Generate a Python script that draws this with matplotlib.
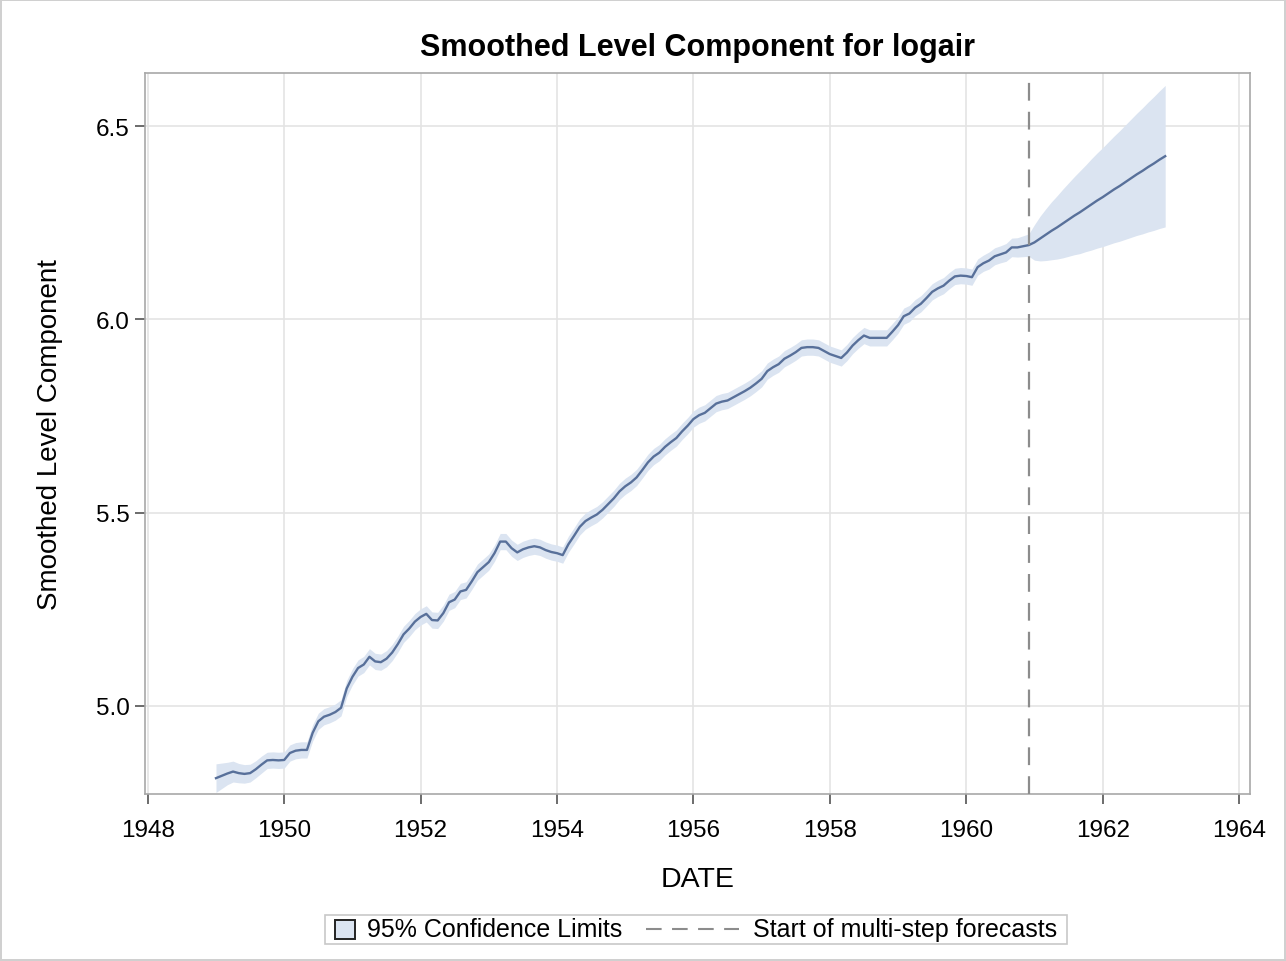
import numpy as np
import matplotlib.pyplot as plt
from matplotlib.patches import Rectangle
from matplotlib.lines import Line2D
from matplotlib.offsetbox import AnchoredOffsetbox, DrawingArea, HPacker, TextArea

plt.rcParams['font.family'] = ['Liberation Sans', 'DejaVu Sans']

# smoothed level, monthly Jan 1949 - Dec 1960
level = [
    4.813, 4.819, 4.825, 4.830, 4.826, 4.824, 4.826, 4.836, 4.848, 4.859, 4.860, 4.859,
    4.860, 4.878, 4.884, 4.886, 4.886, 4.930, 4.960, 4.972, 4.977, 4.984, 4.995, 5.045,
    5.075, 5.098, 5.107, 5.127, 5.115, 5.113, 5.122, 5.138, 5.160, 5.185, 5.200, 5.218,
    5.230, 5.238, 5.222, 5.221, 5.240, 5.268, 5.275, 5.296, 5.300, 5.322, 5.346, 5.359,
    5.372, 5.395, 5.425, 5.425, 5.408, 5.397, 5.405, 5.410, 5.413, 5.410, 5.403, 5.398,
    5.395, 5.390, 5.418, 5.440, 5.463, 5.478, 5.487, 5.495, 5.507, 5.522, 5.537, 5.555,
    5.568, 5.578, 5.591, 5.610, 5.630, 5.645, 5.655, 5.670, 5.682, 5.693, 5.710, 5.725,
    5.742, 5.752, 5.758, 5.770, 5.782, 5.787, 5.790, 5.798, 5.806, 5.814, 5.823, 5.834,
    5.846, 5.866, 5.876, 5.884, 5.898, 5.906, 5.915, 5.926, 5.928, 5.928, 5.926, 5.918,
    5.910, 5.905, 5.900, 5.914, 5.932, 5.946, 5.958, 5.952, 5.952, 5.952, 5.952, 5.968,
    5.985, 6.008, 6.015, 6.030, 6.040, 6.055, 6.071, 6.080, 6.087, 6.100, 6.111, 6.113,
    6.112, 6.109, 6.135, 6.145, 6.152, 6.163, 6.168, 6.173, 6.186, 6.186, 6.189, 6.192,
]

# multi-step forecast, Jan 1961 - Dec 1962
forecast = [
    6.199, 6.209, 6.219, 6.229, 6.238, 6.248, 6.258, 6.268, 6.277, 6.287, 6.297, 6.307,
    6.316, 6.326, 6.336, 6.345, 6.355, 6.365, 6.375, 6.384, 6.394, 6.403, 6.413, 6.422,
]

# half width of 95% confidence band, one value per month (1949 - 1962)
half_width = [
    0.037, 0.033, 0.029, 0.027, 0.025, 0.024, 0.023, 0.022, 0.022, 0.021, 0.021, 0.021,
    0.021, 0.021, 0.021, 0.021, 0.021, 0.021, 0.021, 0.021, 0.021, 0.021, 0.021, 0.021,
    0.021, 0.021, 0.021, 0.021, 0.021, 0.021, 0.021, 0.021, 0.021, 0.021, 0.021, 0.021,
    0.021, 0.021, 0.021, 0.021, 0.021, 0.021, 0.021, 0.021, 0.021, 0.021, 0.021, 0.021,
    0.021, 0.021, 0.021, 0.021, 0.021, 0.021, 0.021, 0.021, 0.021, 0.021, 0.021, 0.021,
    0.021, 0.021, 0.021, 0.021, 0.021, 0.021, 0.021, 0.021, 0.021, 0.021, 0.021, 0.021,
    0.021, 0.021, 0.021, 0.021, 0.021, 0.021, 0.021, 0.021, 0.021, 0.021, 0.021, 0.021,
    0.021, 0.021, 0.021, 0.021, 0.021, 0.021, 0.021, 0.021, 0.021, 0.021, 0.021, 0.021,
    0.021, 0.021, 0.021, 0.021, 0.021, 0.021, 0.021, 0.021, 0.021, 0.021, 0.021, 0.021,
    0.021, 0.021, 0.021, 0.021, 0.021, 0.021, 0.021, 0.021, 0.021, 0.021, 0.021, 0.021,
    0.021, 0.021, 0.021, 0.021, 0.021, 0.021, 0.021, 0.021, 0.021, 0.021, 0.021, 0.021,
    0.021, 0.021, 0.021, 0.021, 0.022, 0.022, 0.022, 0.023, 0.024, 0.025, 0.027, 0.029,
    0.046, 0.058, 0.067, 0.075, 0.082, 0.089, 0.095, 0.101, 0.107, 0.112, 0.118, 0.123,
    0.128, 0.133, 0.138, 0.143, 0.148, 0.153, 0.158, 0.163, 0.168, 0.173, 0.178, 0.183,
]

start_year = 1949
forecast_start = 1960 + 11 / 12  # last observed month (Dec 1960)
x_ticks = list(range(1948, 1965, 2))
y_ticks = [5.0, 5.5, 6.0, 6.5]

values = np.array(level + forecast)
hw = np.array(half_width)
dates = start_year + np.arange(len(values)) / 12

line_color = '#58709a'
band_color = '#dbe4f1'
grid_color = '#e4e4e4'
axis_color = '#a8a8a8'
ref_color = '#8c8c8c'

fig = plt.figure(figsize=(12.86, 9.62), dpi=100)
fig.patch.set_edgecolor('#d0d0d0')
fig.patch.set_linewidth(1.5)
ax = fig.add_axes([0.1128, 0.1736, 0.8592, 0.7494])

ax.fill_between(dates, values - hw, values + hw, color=band_color, linewidth=0, zorder=2)
ax.plot(dates, values, color=line_color, linewidth=1.7, zorder=3)
ax.axvline(forecast_start, color=ref_color, linewidth=1.6, dashes=(8, 5), zorder=4)

ax.set_xlim(1947.96, 1964.16)
ax.set_ylim(4.772, 6.637)
ax.set_xticks(x_ticks)
ax.set_yticks(y_ticks)
ax.set_yticklabels([f'{v:.1f}' for v in y_ticks])
ax.grid(True, color=grid_color, linewidth=1.2, zorder=0)
ax.set_axisbelow(True)
for s in ax.spines.values():
    s.set_color(axis_color)
    s.set_linewidth(1.2)
ax.tick_params(colors='#444444', labelcolor='black', labelsize=17.5, length=7, width=1.1)
ax.tick_params(axis='x', pad=11)
ax.tick_params(axis='y', pad=4)

ax.set_title('Smoothed Level Component for logair', fontsize=22, fontweight='bold', pad=13)
ax.set_xlabel('DATE', fontsize=20.5, labelpad=18)
ax.set_ylabel('Smoothed Level Component', fontsize=20, labelpad=24)

# legend built by hand: small square for the band, long dashed line for the marker
sq = DrawingArea(14, 14, 0, 0)
sq.add_artist(Rectangle((0, 0), 14, 14, facecolor=band_color, edgecolor='#222222', linewidth=1.4))
dash = DrawingArea(67, 14, 0, 0)
dash.add_artist(Line2D([0, 67], [7, 7], color=ref_color, linewidth=1.5, dashes=(7.5, 5)))
txt_kw = dict(textprops=dict(fontsize=18, color='black'))
entry1 = HPacker(children=[sq, TextArea('95% Confidence Limits', **txt_kw)], sep=8.5, align='center')
entry2 = HPacker(children=[dash, TextArea('Start of multi-step forecasts', **txt_kw)], sep=10.5, align='center')
items = HPacker(children=[DrawingArea(6, 1, 0, 0), entry1, DrawingArea(17, 1, 0, 0),
                          entry2, DrawingArea(5, 1, 0, 0)], sep=0, align='center')
box = AnchoredOffsetbox(loc='lower center', child=items, pad=0.1, borderpad=0, frameon=True,
                        prop=dict(size=18), bbox_to_anchor=(0.541, 0.0177),
                        bbox_transform=fig.transFigure)
box.patch.set_edgecolor('#c8c8c8')
box.patch.set_linewidth(1.2)
box.patch.set_boxstyle('square', pad=0)
fig.add_artist(box)

plt.savefig('out.png', dpi=100)
